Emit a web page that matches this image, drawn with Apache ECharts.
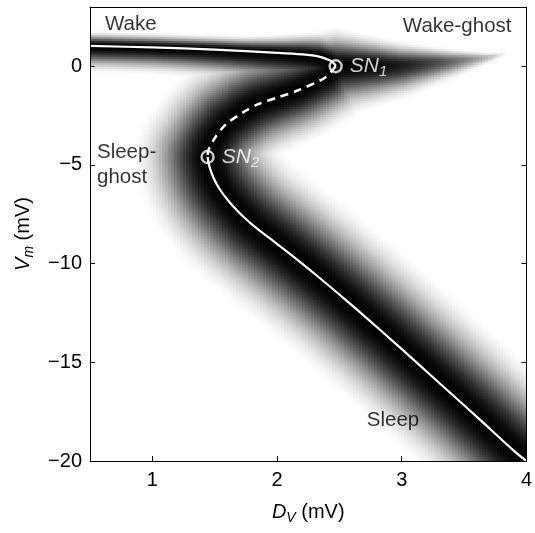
<!DOCTYPE html>
<html><head><meta charset="utf-8">
<script src="https://cdn.jsdelivr.net/npm/echarts@6/dist/echarts.min.js"></script>
<style>html,body{margin:0;padding:0;background:#fff}#c{width:535px;height:533px}</style>
</head><body><div id="c"></div>
<script>
// ---------- data ----------
const xTicks = [1, 2, 3, 4];
const yTicks = [-20, -15, -10, -5, 0];
const wakeBranch = [[0.5,1.03],[1.0,0.95],[1.5,0.84],[2.0,0.68],[2.2,0.6],[2.33,0.5],[2.42,0.3],[2.46,0.12],[2.47,0.0]];
const unstableBranch = [[2.47,0.0],[2.39,-0.56],[2.17,-1.22],[2.01,-1.57],[1.85,-1.92],[1.73,-2.33],[1.59,-2.94],[1.50,-3.65],[1.45,-4.25],[1.443,-4.6]];
const sleepBranch = [[1.443,-4.6],[1.459,-5.11],[1.491,-5.66],[1.539,-6.22],[1.611,-6.83],[1.699,-7.44],[1.803,-8.04],[1.938,-8.7],[2.098,-9.48],[2.306,-10.54],[2.578,-11.99],[2.841,-13.44],[3.105,-14.93],[3.377,-16.48],[3.64,-17.98],[3.912,-19.55],[4.0,-20]];
const wakeGhost = [[2.47,0.05],[2.97,0.05],[3.37,0.25],[3.69,0.46],[3.87,0.71]];
const saddleNodes = [{sub:'1', value:[2.47,0.0]}, {sub:'2', value:[1.443,-4.6]}];
const regionLabels = [
  {text:'Wake', value:[0.62,2.11], align:'left'},
  {text:'Wake-ghost', value:[3.88,2.01], align:'right'},
  {text:'Sleep-\nghost', value:[0.556,-4.98], align:'left'},
  {text:'Sleep', value:[2.72,-17.95], align:'left'}
];

// ---------- layout / style ----------
const X0 = 0.5, X1 = 4, Y0 = -20, Y1 = 3;
const G = {left:90, top:7, width:438, height:454};
const NX = 146, NY = 227;               // 3px x 2px cells
const F = "'Liberation Sans', Arial, Helvetica, sans-serif";
const BAND = {wakeUpL:15, wakeUpR:30, wakeDnL:27, wakeDnR:48,
              unstUp0:36, unstUp1:70, unstDn0:48, unstDn1:66, sleepR:74,
              ghostUp:38, ghostDn:54, k:3.0, p:2.2};

const kx = G.width/(X1-X0), ky = G.height/(Y1-Y0);
const cw = G.width/NX, ch = G.height/NY;
const dX = (X1-X0)/NX, dY = (Y1-Y0)/NY;
function toPx(p){ return [(p[0]-X0)*kx, (Y1-p[1])*ky]; }
function clamp01(v){ return v<0?0:v>1?1:v; }
function lerp(a,b,t){ return a+(b-a)*t; }
const tail = Math.exp(-BAND.k);
function profile(r){ if(r>=1) return 0; return (Math.exp(-BAND.k*Math.pow(r,BAND.p))-tail)/(1-tail); }

function samples(pts, step, fn){
  const P = pts.map(toPx); const L=[0];
  for(let i=1;i<P.length;i++) L.push(L[i-1]+Math.hypot(P[i][0]-P[i-1][0],P[i][1]-P[i-1][1]));
  const tot = L[L.length-1]; const out=[];
  for(let i=0;i<P.length-1;i++){
    const seg=L[i+1]-L[i]; const n=Math.max(1,Math.ceil(seg/step));
    for(let j=0;j<=n;j++){
      const f=j/n; const x=lerp(P[i][0],P[i+1][0],f), y=lerp(P[i][1],P[i+1][1],f);
      const s=(L[i]+seg*f)/tot, d=X0+x/kx;
      out.push(Object.assign({x,y}, fn(s,d)));
    }
  }
  return out;
}
const S = [].concat(
  samples(wakeBranch, 2, (s,d)=>({
    up: lerp(BAND.wakeUpL, BAND.wakeUpR, Math.pow(clamp01((d-1.2)/1.27),3)),
    dn: lerp(BAND.wakeDnL, BAND.wakeDnR, Math.pow(clamp01((d-0.8)/1.67),2)), amp:1})),
  samples(unstableBranch, 2, (s)=>({
    up: lerp(BAND.unstUp0, BAND.unstUp1, Math.sqrt(s)),
    dn: lerp(BAND.unstDn0, BAND.unstDn1, s), amp:1})),
  samples(sleepBranch, 2, ()=>({up:BAND.sleepR, dn:BAND.sleepR, amp:1})),
  samples(wakeGhost, 2, (s)=>({up:BAND.ghostUp*(1-s)+0.01, dn:BAND.ghostDn*(1-s)+0.01, amp:1-Math.pow(s,2.2)}))
);

const cells = [];
for(let j=0;j<NY;j++){
  const py=(NY-j-0.5)*ch;
  for(let i=0;i<NX;i++){
    const px=(i+0.5)*cw; let I=0;
    for(let k=0;k<S.length;k++){
      const s=S[k]; const dx=px-s.x, dy=py-s.y; const R = dy<0 ? s.up : s.dn;
      const d2=dx*dx+dy*dy; if(d2>=R*R) continue;
      const v=s.amp*profile(Math.sqrt(d2)/R); if(v>I) I=v;
    }
    if(I>0.004) cells.push([X0+(i+0.5)*dX, Y0+(j+0.5)*dY, +I.toFixed(3)]);
  }
}

const minus = v => v<0 ? '\u2212'+Math.abs(v) : String(v);
const subRich = (color, fs)=>({
  i:{fontFamily:F,fontSize:fs,fontStyle:'italic',color,lineHeight:26,verticalAlign:'middle'},
  s:{fontFamily:F,fontSize:Math.round(fs*0.7),fontStyle:'italic',color,lineHeight:14,verticalAlign:'bottom'},
  n:{fontFamily:F,fontSize:fs,color,lineHeight:26,verticalAlign:'middle'}
});

function renderCell(params, api){
  const x=api.value(0), y=api.value(1), v=api.value(2);
  const p0=api.coord([x-dX/2, y+dY/2]); const p1=api.coord([x+dX/2, y-dY/2]);
  const x0=Math.round(p0[0]), y0=Math.round(p0[1]);
  const g=Math.round(255*(1-v));
  return {type:'rect', shape:{x:x0, y:y0, width:Math.round(p1[0])-x0, height:Math.round(p1[1])-y0},
          style:{fill:'rgb('+g+','+g+','+g+')'}, silent:true};
}

const chart = echarts.init(document.getElementById('c'), null, {renderer:'canvas'});
chart.setOption({
  animation:false,
  backgroundColor:'#fff',
  grid:{left:G.left, top:G.top, width:G.width, height:G.height},
  xAxis:[
    {type:'value', min:X0, max:X1, position:'bottom', z:10,
     axisLine:{onZero:false, lineStyle:{color:'#000',width:1}},
     axisTick:{inside:true,length:5,customValues:xTicks,lineStyle:{color:'#000'}},
     axisLabel:{customValues:xTicks,color:'#000',fontFamily:F,fontSize:20,margin:9},
     splitLine:{show:false},
     name:'{i|D}{s|V}{n| (mV)}', nameLocation:'middle', nameGap:38,
     nameTextStyle:{rich:subRich('#000',20)}},
    {type:'value', min:X0, max:X1, position:'top', z:10,
     axisLine:{onZero:false, lineStyle:{color:'#000',width:1}}, axisTick:{show:false}, axisLabel:{show:false}, splitLine:{show:false}}
  ],
  yAxis:[
    {type:'value', min:Y0, max:Y1, position:'left', z:10,
     axisLine:{onZero:false, lineStyle:{color:'#000',width:1}},
     axisTick:{inside:true,length:5,customValues:yTicks,lineStyle:{color:'#000'}},
     axisLabel:{customValues:yTicks,color:'#000',fontFamily:F,fontSize:20,margin:8,formatter:minus},
     splitLine:{show:false},
     name:'{i|V}{s|m}{n| (mV)}', nameLocation:'middle', nameRotate:90, nameGap:54,
     nameTextStyle:{rich:subRich('#000',20)}},
    {type:'value', min:Y0, max:Y1, position:'right', z:10,
     axisLine:{onZero:false, lineStyle:{color:'#000',width:1}},
     axisTick:{inside:true,length:5,customValues:yTicks,lineStyle:{color:'#000'}},
     axisLabel:{show:false}, splitLine:{show:false}}
  ],
  series:[
    {type:'custom', xAxisIndex:0, yAxisIndex:0, data:cells, renderItem:renderCell,
     progressive:0, silent:true, clip:true, z:1},
    {type:'line', xAxisIndex:0, yAxisIndex:0, data:wakeBranch, smooth:0.3, showSymbol:false, silent:true,
     lineStyle:{color:'#fff',width:2.2}, z:5},
    {type:'line', xAxisIndex:0, yAxisIndex:0, data:unstableBranch, smooth:0.3, showSymbol:false, silent:true,
     lineStyle:{color:'#fff',width:2.6,type:[8,6]}, z:5},
    {type:'line', xAxisIndex:0, yAxisIndex:0, data:sleepBranch, smooth:0.4, showSymbol:false, silent:true,
     lineStyle:{color:'#fff',width:2.2}, z:5},
    {type:'scatter', xAxisIndex:0, yAxisIndex:0, silent:true, z:6,
     data:saddleNodes.map(d=>({value:d.value, sub:d.sub})),
     symbol:'circle', symbolSize:12,
     itemStyle:{color:'rgba(0,0,0,0)', borderColor:'#fff', borderWidth:2.4},
     label:{show:true, position:'right', distance:7,
       formatter:p=>'{i|SN}{s|'+p.data.sub+'}', rich:subRich('#fff',21)}},
    {type:'scatter', xAxisIndex:0, yAxisIndex:0, silent:true, z:6, symbolSize:0,
     data:regionLabels.map(d=>({value:d.value, name:d.text,
       label:{align:d.align}})),
     label:{show:true, position:'inside', formatter:p=>p.name, color:'#000', fontFamily:F, fontSize:20.5,
       lineHeight:25, verticalAlign:'middle'}}
  ]
});
</script></body></html>
